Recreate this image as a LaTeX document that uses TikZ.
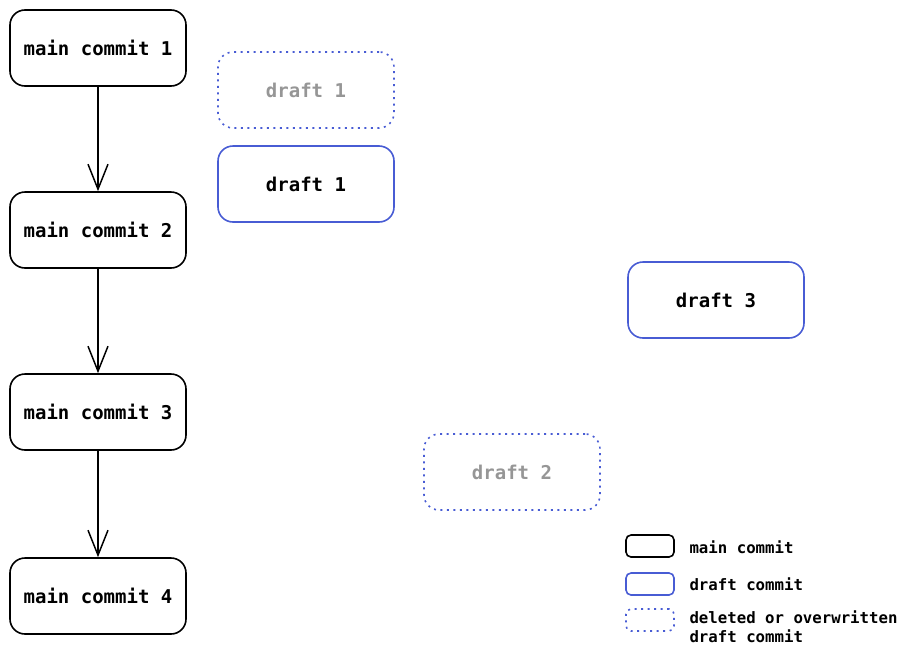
\documentclass[tikz,border=0pt]{standalone}
\usepackage{fontspec}
\setmonofont{DejaVu Sans Mono}
\usetikzlibrary{arrows.meta}

\definecolor{draftblue}{RGB}{72,92,212}
\definecolor{ghostgray}{RGB}{150,150,150}

\begin{document}
\begin{tikzpicture}
    [
      x=1pt, y=-1pt,
      every node/.style={font=\ttfamily\bfseries\fontsize{19}{22}\selectfont},
      commit/.style={draw=black, line width=1.6pt, rounded corners=15pt,
        minimum width=176pt, minimum height=76pt},
      draft/.style={commit, draw=draftblue},
      ghost/.style={commit, draw=draftblue, text=ghostgray,
        dash pattern=on 2pt off 4.5pt},
      key/.style={line width=1.6pt, rounded corners=5pt,
        minimum width=48pt, minimum height=22pt, inner sep=0pt},
      keytext/.style={anchor=west, align=left,
        font=\ttfamily\bfseries\fontsize{15.7}{19}\selectfont},
      next/.style={-{Straight Barb[length=25pt,width=20pt]}, line width=1.5pt},
    ]

    \useasboundingbox (0,0) rectangle (917,656);

    % main line
    \node [commit] (m1) at (98,48) {main commit 1};
    \node [commit] (m2) at (98,230) {main commit 2};
    \node [commit] (m3) at (98,412) {main commit 3};
    \node [commit] (m4) at (98,596) {main commit 4};

    \draw [next] (m1) -- (m2);
    \draw [next] (m2) -- (m3);
    \draw [next] (m3) -- (m4);

    % drafts
    \node [ghost] (d1old) at (306,90) {draft 1};
    \node [draft] (d1) at (306,184) {draft 1};
    \node [draft] (d3) at (716,300) {draft 3};
    \node [ghost] (d2old) at (512,472) {draft 2};

    % legend
    \node [key, draw=black] (kmain) at (650,546) {};
    \node [key, draw=draftblue] (kdraft) at (650,584) {};
    \node [key, draw=draftblue, dash pattern=on 2pt off 4.5pt] (kghost) at (650,620) {};

    \node [keytext] (tmain) at (686,547) {main commit};
    \node [keytext] (tdraft) at (686,584) {draft commit};
    \node [keytext] (tghost) at (686,627) {deleted or overwritten\\draft commit};
  \end{tikzpicture}
\end{document}
